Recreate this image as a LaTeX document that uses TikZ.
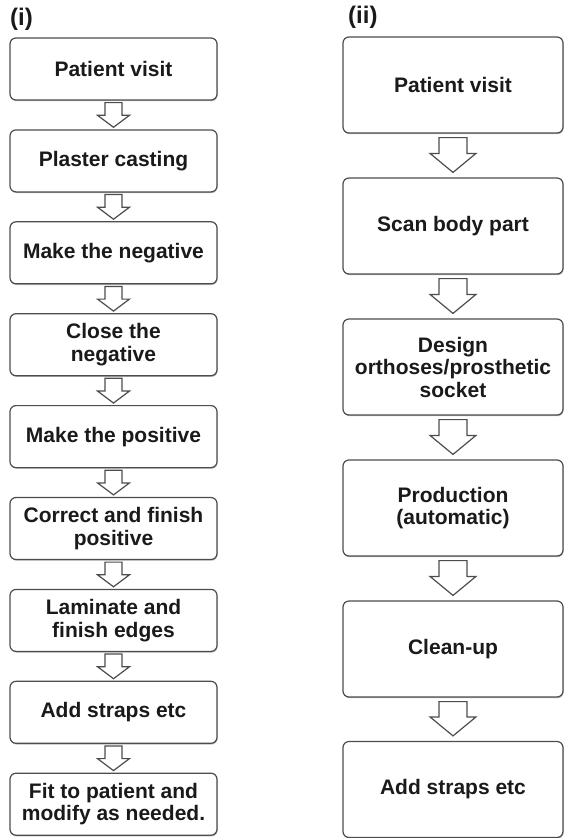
\documentclass[tikz,border=0pt]{standalone}
\usepackage{fontspec}
\setmainfont{Liberation Sans}
\usetikzlibrary{calc,shadows}
\definecolor{bordc}{HTML}{4D4D4D}
\definecolor{txtc}{HTML}{1A1A1A}
\tikzset{
 box/.style={draw=bordc, line width=1.2pt, rounded corners=6pt, fill=white, align=center,
   font=\fontsize{21}{22.5}\selectfont\bfseries, text=txtc, inner sep=2pt,
   drop shadow={shadow xshift=0.6pt, shadow yshift=-1.2pt, opacity=0.45, fill=black!60}},
 lbox/.style={box, minimum width=207pt, minimum height=62pt},
 rbox/.style={box, minimum width=220pt, minimum height=96pt},
 blk/.style={draw=bordc, line width=1.2pt, fill=white, line join=miter},
 tag/.style={font=\fontsize{24}{26}\selectfont\bfseries, text=txtc, anchor=north west, inner sep=0pt}
}
\newcommand{\blkarrow}[7]{%
 \draw[blk] let \p1=(#1.south), \p2=(#2.north) in
  (\x1-#3,\y1-#6) -- (\x1+#3,\y1-#6) -- (\x1+#3,\y2+#7+#5) -- (\x1+#4,\y2+#7+#5)
  -- (\x1,\y2+#7) -- (\x1-#4,\y2+#7+#5) -- (\x1-#3,\y2+#7+#5) -- cycle;}
\begin{document}
\begin{tikzpicture}[x=1pt,y=-1pt]
\useasboundingbox (0,0) rectangle (564,838);
\node[tag] (ti) at (10,8) {(i)};
\node[tag] (tii) at (348,6) {(ii)};
% left column
\node[lbox] (l1) at (113.5,69.0) {Patient visit};
\node[lbox] (l2) at (113.5,160.9) {Plaster casting};
\node[lbox] (l3) at (113.5,252.8) {Make the negative};
\node[lbox] (l4) at (113.5,344.7) {Close the\\negative};
\node[lbox] (l5) at (113.5,436.6) {Make the positive};
\node[lbox] (l6) at (113.5,528.5) {Correct and finish\\positive};
\node[lbox] (l7) at (113.5,620.4) {Laminate and\\finish edges};
\node[lbox] (l8) at (113.5,712.3) {Add straps etc};
\node[lbox] (l9) at (113.5,804.2) {Fit to patient and\\modify as needed.};
\foreach \a/\b in {l1/l2,l2/l3,l3/l4,l4/l5,l5/l6,l6/l7,l7/l8,l8/l9}
  {\blkarrow{\a}{\b}{8.5pt}{16pt}{12pt}{2pt}{2pt}}
% right column
\node[rbox] (r1) at (453,85) {Patient visit};
\node[rbox] (r2) at (453,226) {Scan body part};
\node[rbox] (r3) at (453,367) {Design\\orthoses/prosthetic\\socket};
\node[rbox] (r4) at (453,508) {Production\\(automatic)};
\node[rbox] (r5) at (453,649) {Clean-up};
\node[rbox] (r6) at (453,789.5) {Add straps etc};
\foreach \a/\b in {r1/r2,r2/r3,r3/r4,r4/r5,r5/r6}
  {\blkarrow{\a}{\b}{14pt}{23pt}{19pt}{4pt}{5pt}}
\end{tikzpicture}
\end{document}
